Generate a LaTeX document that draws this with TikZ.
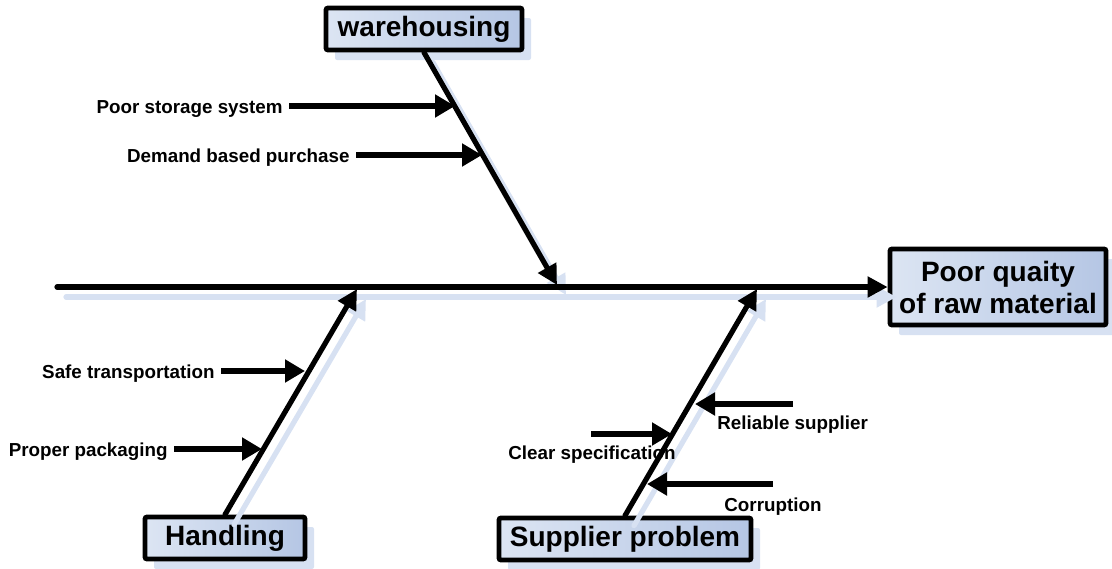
\documentclass[tikz,border=0pt]{standalone}
\usepackage{fontspec}
\setmainfont{Liberation Sans}
\usetikzlibrary{arrows.meta, shadows, positioning}

\definecolor{shadowblue}{HTML}{D7E1F2}
\definecolor{boxlight}{HTML}{DCE5F3}
\definecolor{boxdark}{HTML}{B5C6E4}

\begin{document}
\begin{tikzpicture}[
        x=0.5pt, y=-0.5pt,
        every node/.style={font=\bfseries},
        box/.style={draw, line width=2.4pt, rounded corners=1pt,
            left color=boxlight, right color=boxdark,
            font=\fontsize{14}{16}\selectfont\bfseries, align=center,
            inner sep=2pt, minimum height=21pt,
            general shadow={shadow xshift=4.5pt, shadow yshift=-5pt, fill=shadowblue}},
        cause/.style={font=\fontsize{9.4}{11}\selectfont\bfseries, inner sep=3pt},
        bone/.style={line width=2.6pt, line cap=round, -{Triangle[length=10pt, width=10pt]}},
        twig/.style={line width=2.6pt, -{Triangle[length=10pt, width=11pt]}},
        shade line/.style={draw=shadowblue, transform canvas={shift={(9,10)}}},
    ]
        \useasboundingbox (0,0) rectangle (1112,568);

        % effect and main categories
        \node[box, minimum width=108pt, minimum height=38pt] (effect) at (998,287)
            {Poor quaity\\of raw material};
        \node[box, minimum width=98pt] (warehouse) at (424,29) {warehousing};
        \node[box, minimum width=80pt] (handling) at (225,538) {Handling};
        \node[box, minimum width=126pt] (supplier) at (625,539) {Supplier problem};

        \coordinate (tail) at (57,287);
        \coordinate (wtip) at (557,285);
        \coordinate (htip) at (357,289);
        \coordinate (stip) at (757,289);

        % shadows of the spine and bones
        \draw[bone, shade line] (tail) -- (effect.west);
        \draw[bone, shade line] (warehouse.south) -- (wtip);
        \draw[bone, shade line] (handling.north) -- (htip);
        \draw[bone, shade line] (supplier.north) -- (stip);

        \draw[bone] (tail) -- (effect.west);
        \draw[bone] (warehouse.south) -- (wtip);
        \draw[bone] (handling.north) -- (htip);
        \draw[bone] (supplier.north) -- (stip);

        % warehousing causes
        \node[cause, anchor=east] (storage) at (289,109) {Poor storage system};
        \node[cause, anchor=east] (demand) at (356,158) {Demand based purchase};
        \coordinate (w1) at (455,106);
        \coordinate (w2) at (482,155);
        \draw[twig] (storage.east |- w1) -- (w1);
        \draw[twig] (demand.east |- w2) -- (w2);

        % handling causes
        \node[cause, anchor=east] (transport) at (221,374) {Safe transportation};
        \node[cause, anchor=east] (packaging) at (174,452) {Proper packaging};
        \coordinate (h1) at (305,371);
        \coordinate (h2) at (262,449);
        \draw[twig] (transport.east |- h1) -- (h1);
        \draw[twig] (packaging.east |- h2) -- (h2);

        % supplier causes
        \coordinate (s1start) at (793,404);
        \coordinate (s1) at (695,404);
        \coordinate (s2start) at (591,434);
        \coordinate (s2) at (672,434);
        \coordinate (s3start) at (773,484);
        \coordinate (s3) at (647,484);
        \draw[twig] (s1start) -- (s1);
        \draw[twig] (s2start) -- (s2);
        \draw[twig] (s3start) -- (s3);
        \node[cause, anchor=west] (reliable) at (711,425) {Reliable supplier};
        \node[cause, anchor=west] (clear) at (502,455) {Clear specification};
        \node[cause, anchor=west] (corruption) at (718,507) {Corruption};
    \end{tikzpicture}
\end{document}
